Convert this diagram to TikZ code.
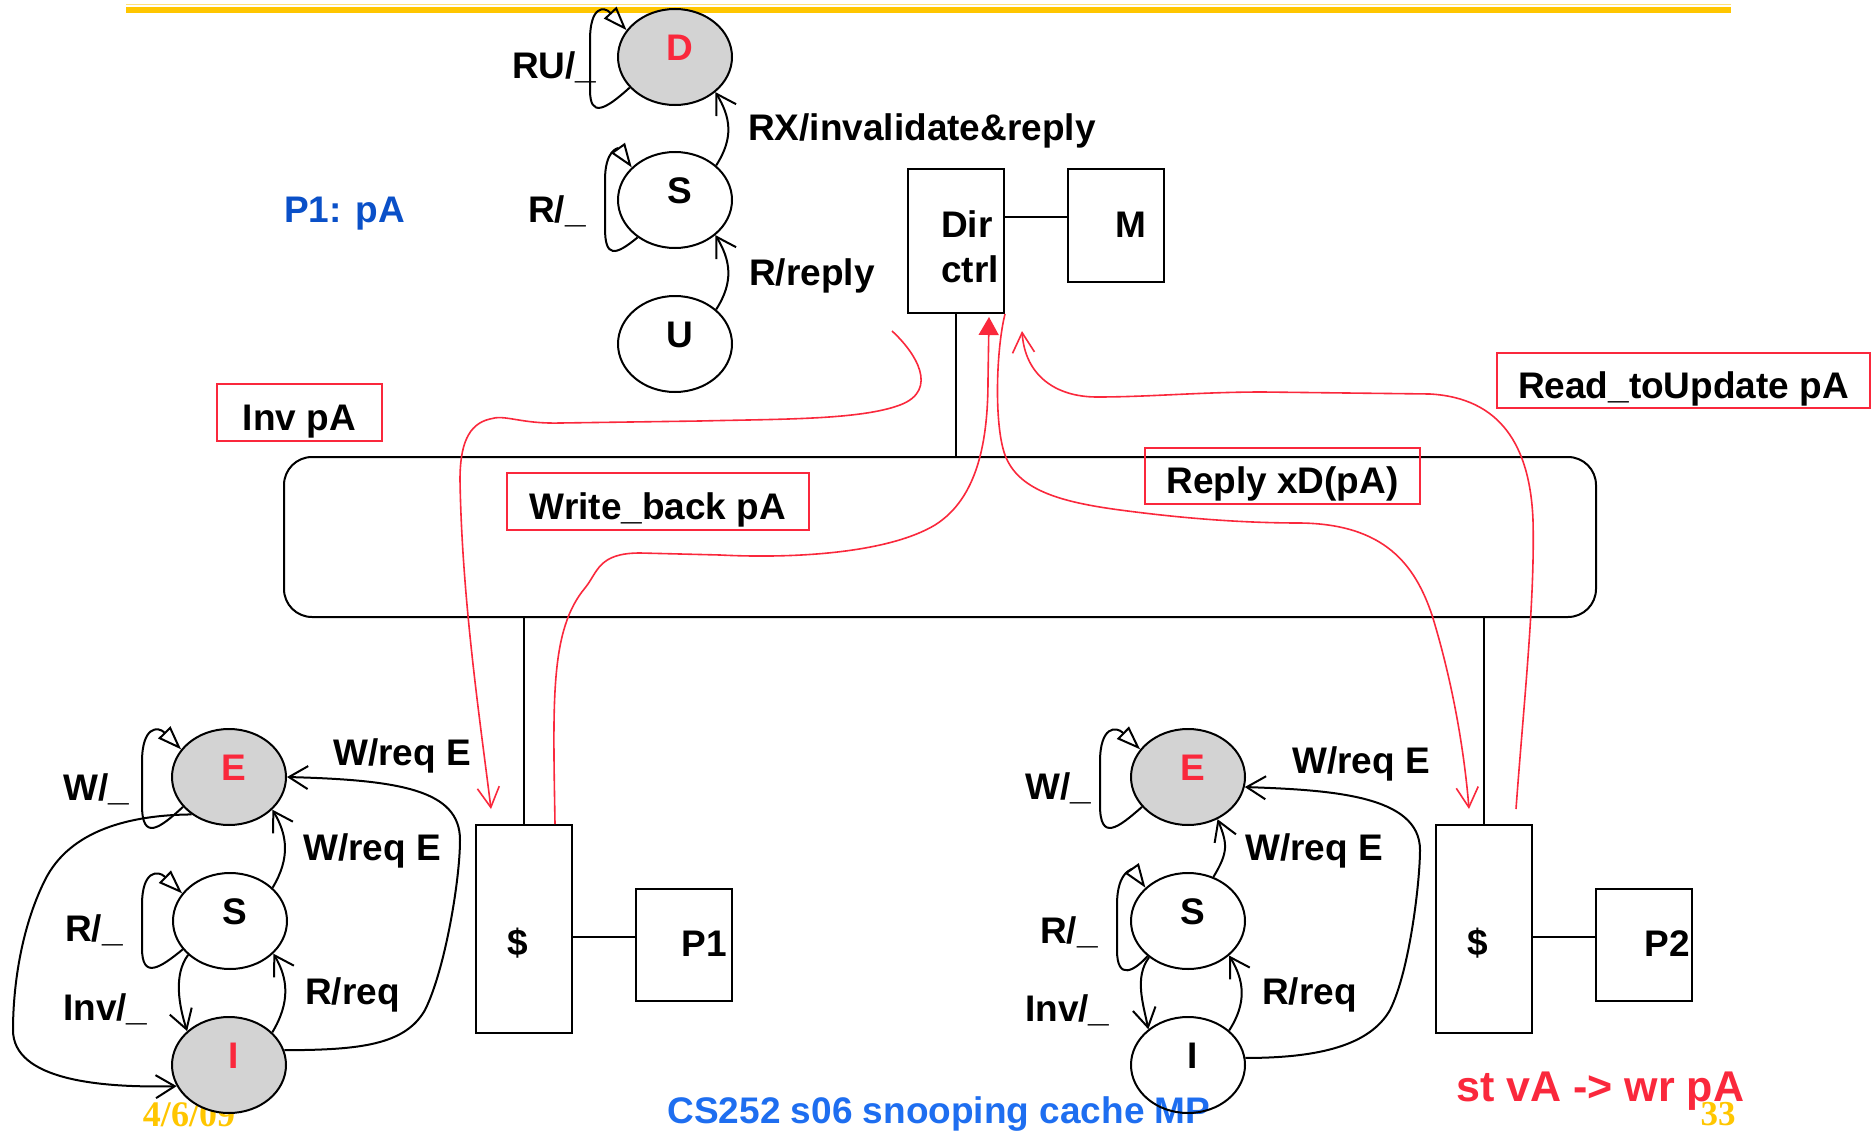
\documentclass[tikz,border=0pt]{standalone}
\usepackage{fontspec}
\setmainfont{Liberation Sans}
\newfontfamily\serifb{Liberation Serif}
\usetikzlibrary{arrows.meta,shapes.geometric}
\definecolor{myred}{RGB}{250,40,60}
\definecolor{myblue}{RGB}{10,80,200}
\definecolor{ltblue}{RGB}{30,110,240}
\definecolor{gold}{RGB}{255,198,0}
\definecolor{ltgold}{RGB}{255,226,120}
\definecolor{stgray}{RGB}{211,211,211}
\begin{document}
\begin{tikzpicture}[x=1pt,y=-1pt,
  lab/.style={font=\fontsize{37}{44}\selectfont\bfseries, inner sep=0pt, anchor=base west},
  fsm/.style={ellipse, draw, line width=2pt, minimum width=114pt, minimum height=96pt, inner sep=0pt,
              text height=27pt, text depth=20pt, font=\fontsize{37}{44}\selectfont\bfseries,
              execute at begin node={\hspace*{10pt}}},
  blk/.style={draw, line width=2pt, inner sep=0pt},
  msg/.style={draw=myred, line width=1.6pt, inner sep=0pt, text height=35pt, text depth=0pt,
              font=\fontsize{37}{44}\selectfont\bfseries},
  fsmar/.style={line width=2pt, -{Straight Barb[length=19pt,width=23pt]}},
  loopar/.style={line width=2pt, -{Triangle[open,length=24pt,width=17pt]}},
  redarr/.style={myred, line width=1.6pt, -{Straight Barb[length=20pt,width=22pt]}},
  wire/.style={line width=2pt}
]
\useasboundingbox[fill=white] (0,0) rectangle (1872,1132);

% top bar
\fill[gold] (126,7.5) rectangle (1731,13.5);
\draw[ltgold, line width=1.5pt] (126,4.5) -- (1731,4.5);

% footer texts
\node[font=\serifb\fontsize{36}{40}\selectfont\bfseries, text=gold, inner sep=0pt, anchor=base] (date) at (189,1126) {4/6/09};
\node[lab, text=ltblue, anchor=base] (foot) at (939,1123) {CS252 s06 snooping cache MP};
\node[lab, text=myred, font=\fontsize{43}{50}\selectfont\bfseries] (stv) at (1456,1101) {st vA -> wr pA};
\node[font=\serifb\fontsize{35}{40}\selectfont\bfseries, text=gold, inner sep=0pt, anchor=base] (pg) at (1718,1125) {33};

\node[lab, text=myblue] (p1pa) at (284,222) {P1: pA};

% directory FSM
\node[fsm, fill=stgray, text=myred] (D) at (675,57) {D};
\node[fsm] (S0) at (675,200) {S};
\node[fsm] (U) at (675,344) {U};
\draw[loopar] (D.214) .. controls (605,110) and (590,118) .. (590,90) -- (590,40) .. controls (590,6) and (604,6) .. (D.151);
\draw[loopar] (S0.225) .. controls (615,256) and (605,258) .. (605,228) -- (605,180) .. controls (605,150) and (618,148) .. (S0.143);
\draw[fsmar] (S0.40) .. controls +(18,-28) and +(15,25) .. (D.-41);
\draw[fsmar] (U.40) .. controls +(18,-28) and +(15,25) .. (S0.-41);
\node[lab] (lru) at (512,78) {RU/\_};
\node[lab] (lr0) at (528,222) {R/\_};
\node[lab] (lrx) at (748,140) {RX/invalidate\&reply};
\node[lab] (lrr) at (749,285) {R/reply};

% boxes
\node[blk, minimum width=96pt, minimum height=144pt] (dir) at (956,241) {};
\node[blk, minimum width=96pt, minimum height=113pt] (mem) at (1116,225.5) {};
\node[blk, rounded corners=28pt, minimum width=1312pt, minimum height=160pt] (bus) at (940,537) {};
\node[blk, minimum width=96pt, minimum height=208pt] (c1) at (524,929) {};
\node[blk, minimum width=96pt, minimum height=112pt] (p1) at (684,945) {};
\node[blk, minimum width=96pt, minimum height=208pt] (c2) at (1484,929) {};
\node[blk, minimum width=96pt, minimum height=112pt] (p2) at (1644,945) {};
\node[lab] (dirt) at (941,237) {Dir};
\node[lab] (ctrlt) at (941,282) {ctrl};
\node[lab, anchor=base] (memt) at (1131,237) {M};
\node[lab, anchor=base] (c1t) at (518,955) {\$};
\node[lab, anchor=base] (p1t) at (704,956) {P1};
\node[lab, anchor=base] (c2t) at (1478,955) {\$};
\node[lab, anchor=base] (p2t) at (1667,956) {P2};

\coordinate (dm) at ([yshift=24pt]dir.east);
\coordinate (cp1) at ([yshift=-8pt]c1.east);
\coordinate (cp2) at ([yshift=-8pt]c2.east);
\draw[wire] (dir.south) -- (dir.south |- bus.north);
\draw[wire] (dm) -- (dm -| mem.west);
\draw[wire] (c1.north) -- (c1.north |- bus.south);
\draw[wire] (c2.north) -- (c2.north |- bus.south);
\draw[wire] (cp1) -- (cp1 -| p1.west);
\draw[wire] (cp2) -- (cp2 -| p2.west);

% left cache FSM
\node[fsm, fill=stgray, text=myred] (E1) at (229,777) {E};
\node[fsm] (S1) at (230,921) {S};
\node[fsm, fill=stgray, text=myred] (I1) at (229,1065) {I};
\draw[loopar] (E1.213) .. controls (160,828) and (142,842) .. (142,805) -- (142,762) .. controls (142,726) and (158,726) .. (E1.150);
\draw[loopar] (S1.211) .. controls (160,968) and (142,980) .. (142,948) -- (142,905) .. controls (142,870) and (158,870) .. (S1.150);
\draw[fsmar] (S1.38) .. controls +(18,-30) and +(15,25) .. (E1.-37);
\draw[fsmar] (I1.37) .. controls +(18,-30) and +(15,25) .. (S1.-37);
\draw[fsmar] (S1.219) .. controls +(-15,20) and +(-8,-25) .. (I1.141);
\draw[fsmar] (I1.15) .. controls (360,1050) and (405,1045) .. (425,1010) .. controls (445,970) and (460,880) .. (460,840) .. controls (460,790) and (400,780) .. (E1.0);
\draw[fsmar] (E1.225) .. controls (130,815) and (70,830) .. (45,880) .. controls (20,930) and (13,990) .. (13,1030) .. controls (13,1080) and (100,1088) .. (I1.202);
\node[lab] (lw1) at (63,800) {W/\_};
\node[lab] (lr1) at (65,941) {R/\_};
\node[lab] (li1) at (63,1020) {Inv/\_};
\node[lab] (lwa1) at (333,765) {W/req E};
\node[lab] (lwb1) at (303,860) {W/req E};
\node[lab] (lrq1) at (305,1004) {R/req};

% right cache FSM
\node[fsm, fill=stgray, text=myred] (E2) at (1188,777) {E};
\node[fsm] (S2) at (1188,921) {S};
\node[fsm] (I2) at (1188,1065) {I};
\draw[loopar] (E2.213) .. controls (1118,828) and (1100,842) .. (1100,805) -- (1100,762) .. controls (1100,726) and (1116,726) .. (E2.150);
\draw[loopar] (S2.221) .. controls (1135,970) and (1117,982) .. (1117,950) -- (1117,905) .. controls (1117,870) and (1133,870) .. (S2.142);
\draw[fsmar] (S2.60) .. controls +(15,-25) and +(10,25) .. (E2.-55);
\draw[fsmar] (I2.40) .. controls +(18,-28) and +(15,25) .. (S2.-40);
\draw[fsmar] (S2.223) .. controls +(-15,20) and +(-5,-25) .. (I2.138);
\draw[fsmar] (I2.7) .. controls (1320,1058) and (1370,1045) .. (1390,1010) .. controls (1410,970) and (1420,880) .. (1420,850) .. controls (1420,795) and (1330,790) .. (E2.-10);
\node[lab] (lw2) at (1025,799) {W/\_};
\node[lab] (lr2) at (1040,943) {R/\_};
\node[lab] (li2) at (1025,1021) {Inv/\_};
\node[lab] (lwa2) at (1292,773) {W/req E};
\node[lab] (lwb2) at (1245,860) {W/req E};
\node[lab] (lrq2) at (1262,1004) {R/req};

% message boxes
\node[msg, minimum width=165pt, minimum height=57pt] (minv) at (299.5,412.5) {Inv pA};
\node[msg, minimum width=302pt, minimum height=57pt] (mwb) at (658,501.5) {Write\_back pA};
\node[msg, minimum width=275pt, minimum height=56pt] (mrep) at (1282.5,476) {Reply xD(pA)};
\node[msg, minimum width=373pt, minimum height=55pt] (mrd) at (1683.5,380.5) {Read\_toUpdate pA};

% red message paths
\coordinate (invs) at ([xshift=-15pt,yshift=-17pt]dir.south west);
\draw[redarr] (invs) .. controls (915,352) and (940,390) .. (900,405) .. controls (860,420) and (780,419) .. (700,421) -- (560,423) .. controls (520,424) and (505,414) .. (490,419) .. controls (468,424) and (460,445) .. (460,480) .. controls (462,600) and (480,720) .. ([xshift=-33pt,yshift=15pt]c1.north);
\draw[myred, line width=1.6pt, -{Triangle[length=18pt,width=20pt]}] ([xshift=31pt]c1.north) .. controls (553,700) and (550,630) .. (585,588) .. controls (598,572) and (598,553) .. (640,553) -- (720,555) .. controls (800,559) and (890,552) .. (935,525) .. controls (978,498) and (988,440) .. (988,380) -- ([xshift=33pt,yshift=-3pt]dir.south);
\draw[redarr] (dir.south east) .. controls (996,350) and (994,425) .. (1005,455) .. controls (1018,490) and (1060,502) .. (1120,510) .. controls (1180,518) and (1240,523) .. (1300,523) .. controls (1385,524) and (1415,565) .. (1432,615) .. controls (1455,690) and (1465,760) .. ([xshift=-15pt,yshift=15pt]c2.north);
\draw[redarr] ([xshift=32pt,yshift=15pt]c2.north) .. controls (1524,700) and (1535,600) .. (1533,520) .. controls (1530,445) and (1500,398) .. (1430,394) -- (1263,392) .. controls (1200,392) and (1150,397) .. (1097,397) .. controls (1055,397) and (1025,375) .. ([xshift=17pt,yshift=-17pt]dir.south east);
\end{tikzpicture}
\end{document}
